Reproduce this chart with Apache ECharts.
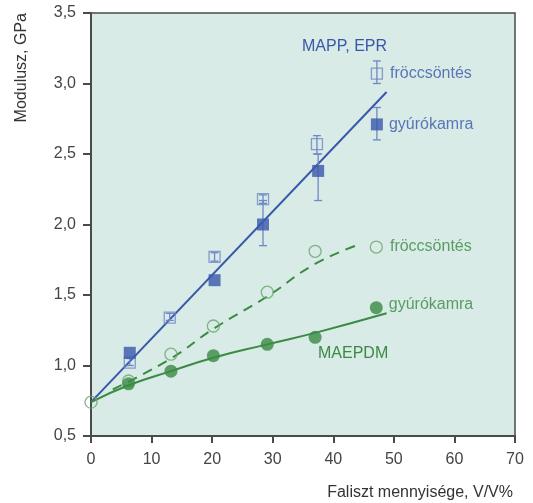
<!DOCTYPE html>
<html>
<head>
<meta charset="utf-8">
<script src="https://cdn.jsdelivr.net/npm/echarts@6/dist/echarts.min.js"></script>
<style>
html,body{margin:0;padding:0;background:#fff;}
#chart{width:533px;height:503px;}
</style>
</head>
<body>
<div id="chart"></div>
<script>
// MAPP, EPR
var mappFroccs = [[6.4,1.02],[13.0,1.34],[20.4,1.77],[28.4,2.18],[37.3,2.57],[47.2,3.07]];
var mappGyuro = [[6.4,1.09],[20.4,1.605],[28.4,2.0],[37.5,2.38],[47.2,2.71]];
var mappFroccsErr = [[6.4,1.0,1.05],[13.0,1.32,1.37],[20.4,1.74,1.80],[28.4,2.15,2.21],[37.3,2.50,2.63],[47.2,3.0,3.16]];
var mappGyuroErr = [[28.4,1.85,2.17],[37.5,2.17,2.5],[47.2,2.6,2.83]];
var mappFit = [[0,0.74],[48.8,2.94]];
// MAEPDM
var maepFroccs = [[0,0.74],[6.2,0.89],[13.2,1.08],[20.2,1.28],[29.1,1.52],[37.0,1.81],[47.1,1.84]];
var maepGyuro = [[6.2,0.87],[13.2,0.96],[20.2,1.07],[29.1,1.15],[37.0,1.20],[47.1,1.41]];
var maepFroccsFit = [[3.6,0.83],[13.2,1.05],[20.2,1.26],[29.1,1.49],[37.0,1.72],[44.4,1.86]];
var maepGyuroFit = [[0,0.74],[6.2,0.86],[13.2,0.96],[20.2,1.055],[29.1,1.15],[37.3,1.235],[48.8,1.37]];
var xTicks = [0,10,20,30,40,50,60,70];
var yTicks = ['0,5','1,0','1,5','2,0','2,5','3,0','3,5'];

var BLUE = '#3a58ab', BLUE_L = '#6f87c5', GREEN = '#3b8a43', GREEN_L = '#68a66d', BG = '#d8ebe6';
var FONT = 'Liberation Sans';

var chart = echarts.init(document.getElementById('chart'));

function errSeries(data, color) {
    return {
        type: 'custom',
        data: data,
        z: 3,
        renderItem: function (params, api) {
            var x = api.value(0);
            var lo = api.coord([x, api.value(1)]);
            var hi = api.coord([x, api.value(2)]);
            var w = 4;
            var st = {stroke: color, lineWidth: 1.3};
            return {
                type: 'group',
                children: [
                    {type: 'line', shape: {x1: lo[0], y1: lo[1], x2: hi[0], y2: hi[1]}, style: st},
                    {type: 'line', shape: {x1: lo[0]-w, y1: lo[1], x2: lo[0]+w, y2: lo[1]}, style: st},
                    {type: 'line', shape: {x1: hi[0]-w, y1: hi[1], x2: hi[0]+w, y2: hi[1]}, style: st}
                ]
            };
        }
    };
}

function endLabel(arr, text) {
    return function (p) { return p.dataIndex === arr.length - 1 ? text : ''; };
}

var option = {
    animation: false,
    grid: {
        left: 91, right: 18, top: 13, bottom: 67,
        show: true, backgroundColor: BG, borderColor: '#4a4a4a', borderWidth: 1.5
    },
    xAxis: {
        type: 'value', min: 0, max: 70, interval: 10,
        axisLine: {lineStyle: {color: '#4a4a4a', width: 2}},
        axisTick: {length: 7, lineStyle: {color: '#4a4a4a', width: 2}},
        axisLabel: {color: '#444', fontFamily: FONT, fontSize: 16, margin: 16,
            formatter: function (v) { return xTicks.indexOf(v) >= 0 ? String(v) : ''; }},
        splitLine: {show: false}
    },
    yAxis: {
        type: 'value', min: 0.5, max: 3.5, interval: 0.5,
        axisLine: {lineStyle: {color: '#4a4a4a', width: 2}},
        axisTick: {length: 8, lineStyle: {color: '#4a4a4a', width: 2}},
        axisLabel: {color: '#444', fontFamily: FONT, fontSize: 16, margin: 15,
            formatter: function (v) { return yTicks[Math.round((v - 0.5) / 0.5)]; }},
        splitLine: {show: false}
    },
    graphic: [
        {type: 'text', left: 14, top: 13, rotation: Math.PI / 2,
            style: {text: 'Modulusz, GPa', font: '16px ' + FONT, fill: '#333'}},
        {type: 'text', right: 20, top: 485,
            style: {text: 'Faliszt mennyisége, V/V%', font: '16px ' + FONT, fill: '#333'}},
        {type: 'text', left: 302, top: 39,
            style: {text: 'MAPP, EPR', font: '16px ' + FONT, fill: BLUE}},
        {type: 'text', left: 318, top: 346,
            style: {text: 'MAEPDM', font: '16px ' + FONT, fill: GREEN}}
    ],
    series: [
        {type: 'line', data: mappFit, symbol: 'none', lineStyle: {color: BLUE, width: 2}, z: 2},
        {type: 'line', data: maepFroccsFit, symbol: 'none', smooth: 0.5,
            lineStyle: {color: GREEN, width: 2, type: [10, 7]}, z: 2},
        {type: 'line', data: maepGyuroFit, symbol: 'none', smooth: 0.5,
            lineStyle: {color: GREEN, width: 2}, z: 2},
        errSeries(mappFroccsErr, BLUE_L),
        errSeries(mappGyuroErr, BLUE_L),
        {type: 'scatter', data: mappFroccs, symbol: 'rect', symbolSize: 11, z: 4,
            itemStyle: {color: 'rgba(0,0,0,0)', borderColor: BLUE_L, borderWidth: 1.3},
            label: {show: true, position: 'right', distance: 7, color: BLUE, fontFamily: FONT, fontSize: 16,
                formatter: endLabel(mappFroccs, 'fröccsöntés')}},
        {type: 'scatter', data: mappGyuro, symbol: 'rect', symbolSize: 12, z: 5,
            itemStyle: {color: BLUE},
            label: {show: true, position: 'right', distance: 6, color: BLUE, fontFamily: FONT, fontSize: 16,
                formatter: endLabel(mappGyuro, 'gyúrókamra')}},
        {type: 'scatter', data: maepFroccs, symbol: 'circle', symbolSize: 12, z: 4,
            itemStyle: {color: 'rgba(0,0,0,0)', borderColor: GREEN_L, borderWidth: 1.3},
            label: {show: true, position: 'right', distance: 7, color: GREEN, fontFamily: FONT, fontSize: 16,
                formatter: endLabel(maepFroccs, 'fröccsöntés')}},
        {type: 'scatter', data: maepGyuro, symbol: 'circle', symbolSize: 13, z: 5,
            itemStyle: {color: GREEN},
            label: {show: true, position: 'right', distance: 6, offset: [0, -3], color: GREEN, fontFamily: FONT, fontSize: 16,
                formatter: endLabel(maepGyuro, 'gyúrókamra')}}
    ]
};
chart.setOption(option);
</script>
</body>
</html>
